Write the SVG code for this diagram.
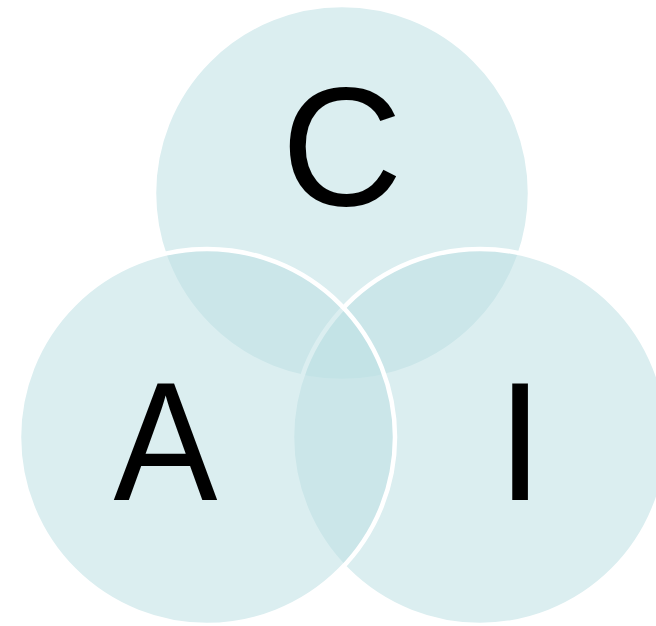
<svg xmlns="http://www.w3.org/2000/svg" width="656" height="626" viewBox="0 0 656 626">
  <style>
    .circ { fill: #bde0e4; fill-opacity: 0.55; stroke: #ffffff; stroke-width: 4.5; }
    .lbl { font-family: "Liberation Sans", Arial, sans-serif; font-size: 168px; fill: #000000; text-anchor: middle; }
  </style>
  <rect width="656" height="626" fill="#ffffff"/>
  <g id="node-C">
    <circle class="circ" cx="342" cy="193" r="188"/>
    <text class="lbl" x="342" y="205">C</text>
  </g>
  <g id="node-I">
    <circle class="circ" cx="480" cy="437" r="188"/>
    <text class="lbl" x="520" y="500">I</text>
  </g>
  <g id="node-A">
    <circle class="circ" cx="207" cy="437" r="188"/>
    <text class="lbl" x="165.5" y="499.5" textLength="104" lengthAdjust="spacingAndGlyphs">A</text>
  </g>
  <g id="connectors"/>
</svg>
